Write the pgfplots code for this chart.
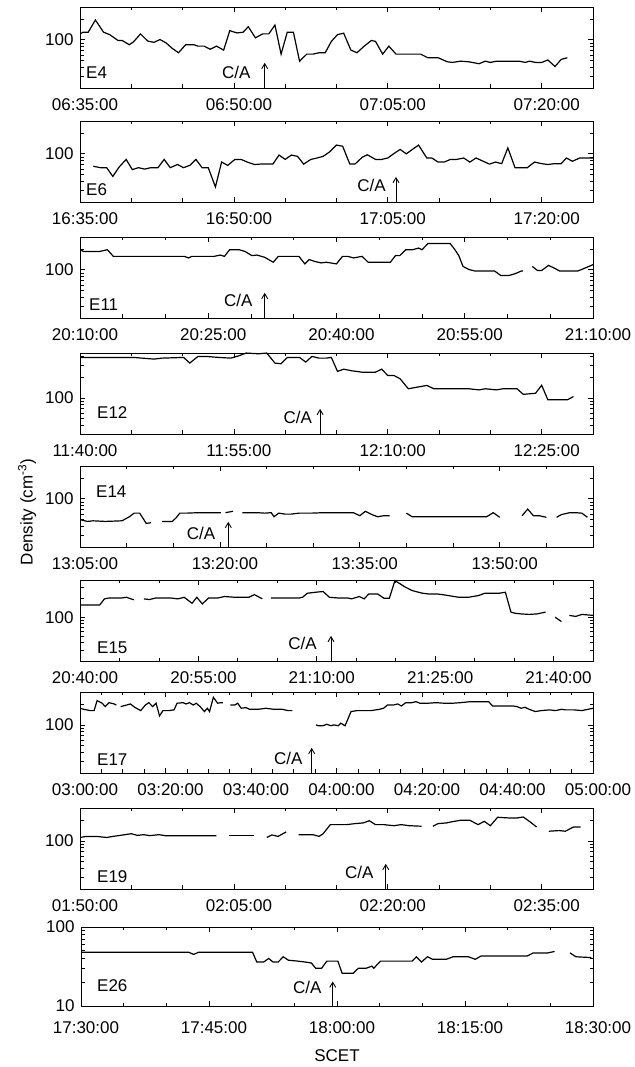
\documentclass[border=0pt]{standalone}
\usepackage{fontspec}
\setmainfont{Liberation Sans}
\usepackage{pgfplots}
\pgfplotsset{compat=1.18}
\usetikzlibrary{arrows.meta}
\newcommand\fsz{\fontsize{17}{20}\selectfont}
\newcommand\CA[3]{%
  \draw[line width=0.9pt,-{Straight Barb[length=5pt,width=6pt]}] ({axis cs:#1,100}|-{rel axis cs:0,0}) -- ({axis cs:#1,100}|-{rel axis cs:0,0.31});
  \node[anchor=east,inner sep=0pt,xshift=-#3pt] at ({axis cs:#1,100}|-{rel axis cs:0,#2}) {C/A};
}
\newcommand\EL[3]{\node[anchor=west,inner sep=0pt,xshift=#2pt] at (rel axis cs:0,#3) {#1};}
\pgfplotsset{
 panel/.style={
  scale only axis, width=513pt, height=81pt, anchor=south west,
  axis line style={line width=0.9pt},
  tick style={black, line width=0.7pt},
  major tick length=5pt, minor tick length=3.5pt,
  ytick={100}, yticklabels={100},
  minor ytick={20,30,40,50,60,70,80,90,200,300,400},
  tick label style={font=\fsz},
  xticklabel style={yshift=-7pt, xshift=5pt},
  yticklabel style={xshift=-3pt},
  no markers,
  every axis plot post/.append style={black, line width=1.2pt, mark=none, solid},
 },
}
\begin{document}
\begin{tikzpicture}[font=\fsz]
\path[use as bounding box] (0,0) rectangle (634pt,1067pt);

% E4
\begin{semilogyaxis}[panel, at={(80pt,979pt)}, xmin=0, xmax=50, ymin=20, ymax=300,
  xtick={0,15,30,45}, xticklabels={06:35:00,06:50:00,07:05:00,07:20:00}, minor xtick={5,10,...,50}]
\addplot coordinates {(0,122)(0.3,129)(0.8,129)(1.5,194)(2.3,129)(2.9,119)(3.7,98)(4.1,98)(4.8,85)(5.2,93)(5.9,122)(6.6,96)(7.2,92)(7.8,101)(8.4,90)(9.0,75)(9.6,65)(10.3,85)(11.1,85)(11.5,81)(12.1,81)(12.7,73)(13.3,81)(14.0,71)(14.6,136)(15.3,126)(15.9,129)(16.4,155)(17.1,107)(17.8,122)(18.4,122)(19.0,164)(19.6,62)(20.2,129)(20.8,129)(21.4,49)(22.1,62)(22.7,62)(23.3,65)(23.9,65)(24.5,95)(25.1,119)(25.7,125)(26.4,71)(27.0,65)(27.7,81)(28.4,98)(28.8,95)(29.5,62)(30.1,81)(30.8,62)(31.6,62)(33.2,62)(33.9,55)(34.9,55)(35.8,48)(36.3,47)(37.1,49)(37.9,48)(38.9,45)(39.5,49)(40.0,47)(40.6,49)(41.8,49)(42.8,49)(43.4,47)(43.8,49)(44.4,47)(45.0,47)(45.6,51)(46.3,41)(46.9,52)(47.5,55)};
\EL{E4}{6}{0.185}
\CA{18.0}{0.195}{14}
\end{semilogyaxis}

% E6
\begin{semilogyaxis}[panel, at={(80pt,865pt)}, xmin=0, xmax=50, ymin=20, ymax=300,
  xtick={0,15,30,45}, xticklabels={16:35:00,16:50:00,17:05:00,17:20:00}, minor xtick={5,10,...,50}]
\addplot coordinates {(1.3,66)(2.0,63)(2.6,63)(3.2,47)(3.8,64)(4.5,83)(5.1,59)(5.7,63)(6.3,60)(6.9,63)(7.6,63)(8.2,83)(8.8,63)(9.5,70)(10.1,63)(10.7,68)(11.3,83)(11.9,63)(12.5,63)(13.2,33)(13.8,76)(14.4,68)(15.1,83)(15.7,83)(16.3,76)(17.0,70)(17.6,71)(18.2,71)(18.8,71)(19.4,96)(20.0,83)(20.6,96)(21.2,92)(21.8,71)(22.5,83)(23.1,87)(23.7,92)(24.3,106)(25.0,134)(25.6,129)(26.3,71)(26.8,71)(27.5,89)(28.0,97)(28.8,83)(29.4,83)(30.0,87)(30.6,101)(31.2,116)(31.8,100)(32.4,116)(33.0,134)(33.8,87)(34.3,87)(34.9,76)(35.5,76)(36.1,83)(36.7,83)(37.4,87)(38.0,76)(38.6,87)(39.3,78)(39.9,71)(40.5,76)(41.1,72)(41.7,122)(42.4,63)(43.0,63)(43.6,63)(44.3,76)(45.0,72)(45.6,70)(46.2,72)(46.9,72)(47.4,87)(48.0,78)(48.7,87)(50,87)};
\EL{E6}{6}{0.15}
\CA{30.8}{0.21}{10}
\end{semilogyaxis}

% E11
\begin{semilogyaxis}[panel, at={(80pt,749pt)}, xmin=0, xmax=60, ymin=20, ymax=300,
  xtick={0,15,30,45,60}, xticklabels={20:10:00,20:25:00,20:40:00,20:55:00,21:10:00}, minor xtick={5,10,...,60}]
\addplot coordinates {(0,196)(0.4,185)(1.1,185)(2.3,185)(3.2,196)(3.9,157)(4.9,157)(7.2,157)(9.6,157)(12.2,157)(12.7,149)(13.1,157)(14.3,157)(15.7,157)(16.4,164)(16.9,157)(17.5,196)(18.6,196)(19.3,185)(20.1,161)(20.7,164)(21.6,152)(22.6,129)(23.2,157)(23.7,157)(25.6,157)(26.3,122)(26.8,141)(27.5,132)(28.2,126)(28.8,129)(29.3,126)(30.0,122)(30.7,157)(31.3,157)(32.0,149)(33.0,157)(33.7,129)(34.4,129)(36.3,129)(36.9,161)(37.4,161)(38.1,196)(38.9,196)(39.6,207)(40.0,196)(40.7,241)(41.5,241)(43.3,241)(43.8,200)(44.3,161)(44.8,112)(45.5,101)(46.2,96)(47.4,96)(48.5,96)(49.2,83)(50.2,83)(50.9,88)(51.6,96)(51.8,96)};
\addplot coordinates {(52.9,112)(53.5,98)(54.0,98)(54.8,116)(55.6,104)(56.1,96)(56.8,96)(58.2,96)(58.9,104)(60,119)};
\EL{E11}{9}{0.17}
\CA{21.6}{0.22}{12}
\end{semilogyaxis}

% E12
\begin{semilogyaxis}[panel, at={(80pt,633pt)}, xmin=0, xmax=50, ymin=30, ymax=450,
  xtick={0,15,30,45}, xticklabels={11:40:00,11:55:00,12:10:00,12:25:00}, minor xtick={5,10,...,50}]
\addplot coordinates {(0,388)(2.5,388)(5.2,388)(7.2,367)(8.0,379)(10.1,388)(10.7,321)(11.5,401)(12.3,401)(13.5,388)(14.7,379)(15.5,410)(16.2,449)(17.4,438)(18.2,449)(19.0,321)(19.6,314)(20.2,388)(21.4,388)(22.0,332)(22.6,401)(23.3,379)(24.0,379)(24.5,388)(25.1,243)(25.7,262)(26.5,248)(27.5,237)(28.8,237)(29.4,262)(30.0,212)(30.6,212)(31.2,190)(32.0,136)(32.8,143)(33.8,152)(34.5,136)(36.3,136)(37.9,136)(38.9,131)(39.5,136)(40.6,131)(41.2,136)(42.6,136)(43.2,113)(44.4,117)(45.0,153)(45.6,94)(46.3,94)(47.5,94)(48.1,105)};
\EL{E12}{17}{0.26}
\CA{23.4}{0.2}{8}
\end{semilogyaxis}

% E14
\begin{semilogyaxis}[panel, at={(80pt,520pt)}, xmin=0, xmax=55, ymin=20, ymax=300,
  xtick={0,15,30,45}, xticklabels={13:05:00,13:20:00,13:35:00,13:50:00}, minor xtick={5,10,...,55}]
\addplot coordinates {(0,50)(0.8,47)(1.4,48)(2.7,47)(4.5,48)(5.3,55)(5.8,62)(6.4,62)(7.1,44)(7.6,45)};
\addplot coordinates {(8.8,47)(9.9,47)(10.3,53)(10.7,62)(11.4,62)(12.7,63)(13.8,63)(15.1,63)};
\addplot coordinates {(15.6,63)(16.4,66)};
\addplot coordinates {(17.4,63)(19.0,63)(19.8,62)(20.5,63)(20.8,55)(21.3,62)(22.0,60)(22.6,60)(23.5,62)(24.8,62)(26.1,63)(27.8,63)(29.3,63)(30.0,57)(30.6,66)(31.3,59)(31.9,55)(32.6,57)(33.2,57)};
\addplot coordinates {(35.0,62)(35.6,55)(37.3,55)(39.1,55)(40.8,55)(43.6,55)(44.3,63)(45.0,54)};
\addplot coordinates {(47.4,57)(48.0,71)(48.6,57)(49.2,57)(50.0,54)};
\addplot coordinates {(51.1,54)(51.6,59)(52.5,63)(53.1,63)(53.8,62)(54.4,54)};
\EL{E14}{16}{0.68}
\CA{15.9}{0.17}{13}
\end{semilogyaxis}

% E15
\begin{semilogyaxis}[panel, at={(80pt,406pt)}, xmin=0, xmax=65, ymin=20, ymax=400,
  xtick={0,15,30,45,60}, xticklabels={20:40:00,20:55:00,21:10:00,21:25:00,21:40:00}, minor xtick={5,10,...,65}]
\addplot coordinates {(0,159)(2.5,159)(3.1,199)(3.7,206)(5.3,206)(5.9,211)(6.8,192)};
\addplot coordinates {(8.1,199)(8.8,194)(9.6,206)(11.4,206)(12.4,199)(13.2,211)(14.2,169)(14.8,211)(15.5,165)(16.3,206)(17.5,206)(18.3,217)(19.6,211)(21.4,211)(22.1,233)(23.1,199)};
\addplot coordinates {(24.2,206)(26.7,206)(27.8,206)(28.2,211)(28.8,245)(29.8,254)(30.8,261)(31.6,211)(32.6,206)(33.9,206)(34.4,199)(35.4,217)(36.0,199)(36.6,239)(37.7,239)(38.5,204)(39.2,204)(39.9,391)(40.6,345)(41.1,313)(42.1,270)(43.4,245)(44.1,239)(45.2,239)(46.2,230)(48.0,211)(49.2,211)(50.5,225)(51.3,245)(52.1,245)(53.1,245)(53.9,254)(54.6,122)(55.1,117)(55.9,114)(56.9,112)(57.9,114)(59.0,122)};
\addplot coordinates {(60.2,101)(61.0,86)};
\addplot coordinates {(62.0,108)(62.8,104)(63.6,112)(65,108)};
\EL{E15}{17}{0.16}
\CA{31.8}{0.22}{14}
\end{semilogyaxis}

% E17
\begin{semilogyaxis}[panel, at={(80pt,294pt)}, xmin=0, xmax=120, ymin=20, ymax=300,
  xtick={0,20,...,120}, xticklabels={03:00:00,03:20:00,03:40:00,04:00:00,04:20:00,04:40:00,05:00:00}, minor xtick={5,10,...,120}]
\addplot coordinates {(0,174)(0.9,168)(2.4,161)(3.3,161)(4.0,225)(5.2,206)(5.9,184)(6.8,210)(8.0,201)(8.5,194)};
\addplot coordinates {(9.5,184)(10.9,194)(11.8,201)(12.8,180)(14.2,161)(15.3,194)(16.1,210)(17.0,184)(17.8,206)(18.6,135)(19.4,161)(20.8,161)(22.0,165)(22.7,206)(24.1,210)(24.8,201)(25.6,210)(26.5,194)(27.2,206)(28.1,184)(29.1,156)(29.8,174)(30.3,156)(31.2,251)(32.2,206)(32.9,210)(33.4,210)};
\addplot coordinates {(35.2,194)(36.2,194)(36.9,206)(37.7,174)(38.8,178)(39.7,168)(41.6,168)(43.5,174)(45.4,168)(47.3,168)(48.7,161)(49.7,161)};
\addplot coordinates {(55.2,100)(55.8,97)(56.8,97)(57.7,102)(58.7,97)(59.4,100)(60.4,97)(61.0,106)(62.0,97)(63.4,156)(64.8,161)(66.2,161)(68.1,161)(70.0,168)(71.0,174)(71.9,194)(73.3,194)(74.3,201)(75.2,188)(76.2,210)(77.6,210)(78.6,217)(79.5,206)(81.4,206)(83.3,210)(85.2,206)(87.1,206)(89.0,210)(91.3,217)(93.7,217)(95.6,217)(96.5,188)(98.4,188)(101.3,188)(102.2,184)(103.2,174)(104.1,180)(105.1,168)(106.5,156)(107.9,161)(109.8,165)(111.2,161)(112.6,168)(113.6,165)(115.5,165)(117.4,161)(118.8,168)(120,174)};
\EL{E17}{17}{0.16}
\CA{54.2}{0.185}{9}
\end{semilogyaxis}

% E19
\begin{semilogyaxis}[panel, at={(80pt,178pt)}, xmin=0, xmax=50, ymin=20, ymax=300,
  xtick={0,15,30,45}, xticklabels={01:50:00,02:05:00,02:20:00,02:35:00}, minor xtick={5,10,...,50}]
\addplot coordinates {(0,112)(0.6,116)(1.6,116)(2.6,112)(3.2,116)(3.9,120)(5.0,127)(5.6,120)(6.2,123)(6.8,119)(7.7,123)(8.3,119)(9.5,119)(11.8,119)(13.3,119)};
\addplot coordinates {(14.5,119)(17.0,119)};
\addplot coordinates {(18.2,112)(18.7,122)(19.3,116)(20.1,135)};
\addplot coordinates {(21.3,123)(22.7,123)(23.3,116)(23.7,127)(24.4,172)(25.0,172)(26.0,172)(26.8,178)(27.6,182)(28.2,196)(28.8,172)(29.6,172)(30.6,166)(31.3,172)(32.1,166)(33.3,163)};
\addplot coordinates {(34.4,163)(34.9,178)(35.7,182)(36.3,190)(37.1,199)(38.0,199)(38.8,172)(39.4,192)(40.0,166)(40.7,220)(41.8,215)(42.6,215)(43.2,222)(43.8,192)(44.5,159)};
\addplot coordinates {(45.7,138)(46.7,141)(47.3,138)(48.1,159)(48.8,159)};
\EL{E19}{17}{0.15}
\CA{29.8}{0.21}{12}
\end{semilogyaxis}

% E26
\begin{semilogyaxis}[panel, at={(81pt,61pt)}, width=512pt, height=79pt, xmin=0, xmax=60, ymin=10, ymax=100,
  ytick={10,100}, yticklabels={10,100}, minor ytick={20,30,40,50,60,70,80,90},
  xticklabel style={yshift=-5pt},
  xtick={0,15,30,45,60}, xticklabels={17:30:00,17:45:00,18:00:00,18:15:00,18:30:00}, minor xtick={5,10,...,60}]
\addplot coordinates {(0,48)(4.6,48)(9.3,48)(12.6,48)(13.2,45)(13.8,48)(16.4,48)(20.1,48)(20.6,36)(21.4,36)(22.0,40)(22.5,36)(23.1,36)(23.7,42)(24.3,38)(25.4,37)(26.3,36)(27.0,35)(27.5,30)(28.2,30)(28.8,37)(29.4,37)(30.1,37)(30.6,26)(31.9,26)(32.5,30)(33.4,30)(34.1,32)(34.3,30)(35.1,37)(36.2,37)(37.6,37)(38.8,37)(39.3,42)(39.9,36)(40.6,42)(41.2,39)(42.8,39)(43.6,42)(45.4,42)(46.2,39)(46.9,43)(49.0,43)(51.3,43)(52.3,43)(53.0,47)(54.7,47)(55.5,49)};
\addplot coordinates {(57.3,47)(58.0,42)(59.8,41)};
\EL{E26}{16}{0.26}
\CA{29.5}{0.24}{11}
\end{semilogyaxis}

\node[rotate=90] at (27pt,555pt) {Density (cm\textsuperscript{-3})};
\node at (337pt,11pt) {SCET};
\end{tikzpicture}
\end{document}
